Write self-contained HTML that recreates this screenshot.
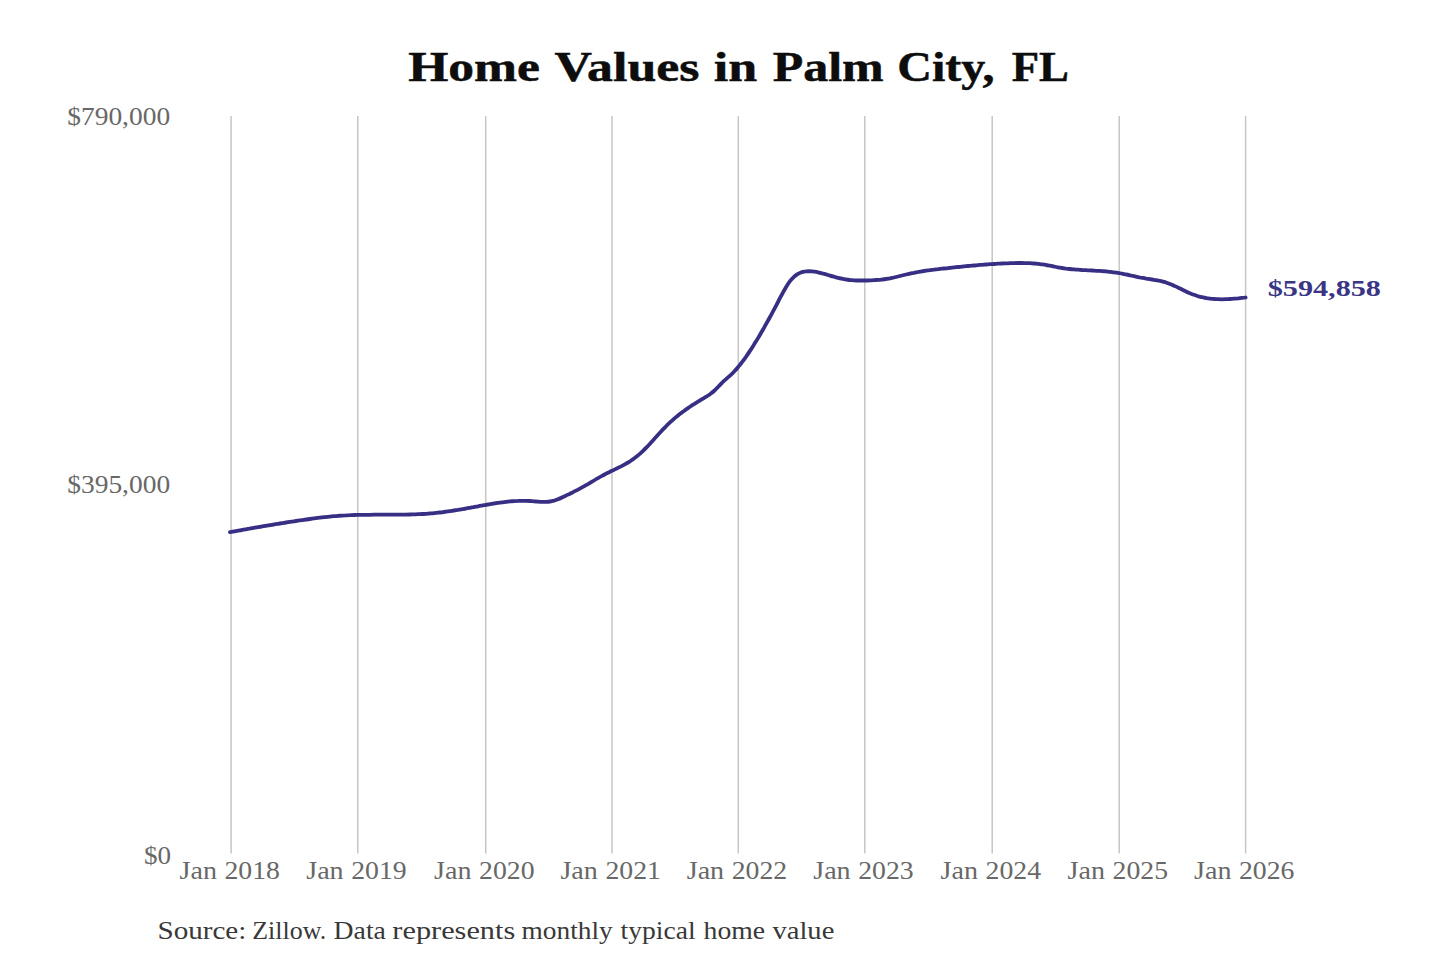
<!DOCTYPE html>
<html><head><meta charset="utf-8"><title>Home Values in Palm City, FL</title><style>
html,body{margin:0;padding:0;background:#fff;}
body{width:1440px;height:960px;overflow:hidden;position:relative;}
svg{position:absolute;left:0;top:0;display:block;}
text{font-family:"Liberation Serif",serif;}
</style></head><body>
<svg width="1440" height="960" viewBox="0 0 1440 960">
<rect width="1440" height="960" fill="#fff"/>
<g stroke="#c6c6c6" stroke-width="1.5">
<line x1="231.1" y1="116" x2="231.1" y2="853.5"/>
<line x1="357.8" y1="116" x2="357.8" y2="853.5"/>
<line x1="485.7" y1="116" x2="485.7" y2="853.5"/>
<line x1="612.0" y1="116" x2="612.0" y2="853.5"/>
<line x1="738.3" y1="116" x2="738.3" y2="853.5"/>
<line x1="864.8" y1="116" x2="864.8" y2="853.5"/>
<line x1="992.2" y1="116" x2="992.2" y2="853.5"/>
<line x1="1119.2" y1="116" x2="1119.2" y2="853.5"/>
<line x1="1245.6" y1="116" x2="1245.6" y2="853.5"/>
</g>
<text x="408.17" y="81.2" textLength="131.72" lengthAdjust="spacingAndGlyphs" font-size="42" font-weight="bold" fill="#0d0d0d" stroke="#0d0d0d" stroke-width="0.5">Home</text>
<text x="554.40" y="81.2" textLength="145.02" lengthAdjust="spacingAndGlyphs" font-size="42" font-weight="bold" fill="#0d0d0d" stroke="#0d0d0d" stroke-width="0.5">Values</text>
<text x="713.86" y="81.2" textLength="43.38" lengthAdjust="spacingAndGlyphs" font-size="42" font-weight="bold" fill="#0d0d0d" stroke="#0d0d0d" stroke-width="0.5">in</text>
<text x="772.71" y="81.2" textLength="110.96" lengthAdjust="spacingAndGlyphs" font-size="42" font-weight="bold" fill="#0d0d0d" stroke="#0d0d0d" stroke-width="0.5">Palm</text>
<text x="897.21" y="81.2" textLength="97.43" lengthAdjust="spacingAndGlyphs" font-size="42" font-weight="bold" fill="#0d0d0d" stroke="#0d0d0d" stroke-width="0.5">City,</text>
<text x="1011.73" y="81.2" textLength="57.25" lengthAdjust="spacingAndGlyphs" font-size="42" font-weight="bold" fill="#0d0d0d" stroke="#0d0d0d" stroke-width="0.5">FL</text>
<text x="157.46" y="938.8" textLength="88.85" lengthAdjust="spacingAndGlyphs" font-size="26" fill="#383838">Source:</text>
<text x="252.30" y="938.8" textLength="73.83" lengthAdjust="spacingAndGlyphs" font-size="26" fill="#383838">Zillow.</text>
<text x="333.64" y="938.8" textLength="52.26" lengthAdjust="spacingAndGlyphs" font-size="26" fill="#383838">Data</text>
<text x="392.33" y="938.8" textLength="122.91" lengthAdjust="spacingAndGlyphs" font-size="26" fill="#383838">represents</text>
<text x="521.55" y="938.8" textLength="91.16" lengthAdjust="spacingAndGlyphs" font-size="26" fill="#383838">monthly</text>
<text x="620.64" y="938.8" textLength="74.97" lengthAdjust="spacingAndGlyphs" font-size="26" fill="#383838">typical</text>
<text x="703.64" y="938.8" textLength="61.48" lengthAdjust="spacingAndGlyphs" font-size="26" fill="#383838">home</text>
<text x="772.40" y="938.8" textLength="61.94" lengthAdjust="spacingAndGlyphs" font-size="26" fill="#383838">value</text>
<text x="67.24" y="124.6" textLength="102.88" lengthAdjust="spacingAndGlyphs" font-size="26" fill="#686868">$790,000</text>
<text x="67.24" y="492.5" textLength="102.88" lengthAdjust="spacingAndGlyphs" font-size="26" fill="#686868">$395,000</text>
<text x="143.96" y="863.5" textLength="27.08" lengthAdjust="spacingAndGlyphs" font-size="26" fill="#686868">$0</text>
<text x="179.52" y="879.3" textLength="37.40" lengthAdjust="spacingAndGlyphs" font-size="26" fill="#686868">Jan</text>
<text x="224.53" y="879.3" textLength="55.43" lengthAdjust="spacingAndGlyphs" font-size="26" fill="#686868">2018</text>
<text x="306.22" y="879.3" textLength="37.40" lengthAdjust="spacingAndGlyphs" font-size="26" fill="#686868">Jan</text>
<text x="351.23" y="879.3" textLength="55.43" lengthAdjust="spacingAndGlyphs" font-size="26" fill="#686868">2019</text>
<text x="434.12" y="879.3" textLength="37.40" lengthAdjust="spacingAndGlyphs" font-size="26" fill="#686868">Jan</text>
<text x="479.13" y="879.3" textLength="55.43" lengthAdjust="spacingAndGlyphs" font-size="26" fill="#686868">2020</text>
<text x="560.42" y="879.3" textLength="37.40" lengthAdjust="spacingAndGlyphs" font-size="26" fill="#686868">Jan</text>
<text x="605.43" y="879.3" textLength="55.43" lengthAdjust="spacingAndGlyphs" font-size="26" fill="#686868">2021</text>
<text x="686.72" y="879.3" textLength="37.40" lengthAdjust="spacingAndGlyphs" font-size="26" fill="#686868">Jan</text>
<text x="731.73" y="879.3" textLength="55.43" lengthAdjust="spacingAndGlyphs" font-size="26" fill="#686868">2022</text>
<text x="813.22" y="879.3" textLength="37.40" lengthAdjust="spacingAndGlyphs" font-size="26" fill="#686868">Jan</text>
<text x="858.23" y="879.3" textLength="55.43" lengthAdjust="spacingAndGlyphs" font-size="26" fill="#686868">2023</text>
<text x="940.62" y="879.3" textLength="37.40" lengthAdjust="spacingAndGlyphs" font-size="26" fill="#686868">Jan</text>
<text x="985.63" y="879.3" textLength="55.43" lengthAdjust="spacingAndGlyphs" font-size="26" fill="#686868">2024</text>
<text x="1067.62" y="879.3" textLength="37.40" lengthAdjust="spacingAndGlyphs" font-size="26" fill="#686868">Jan</text>
<text x="1112.63" y="879.3" textLength="55.43" lengthAdjust="spacingAndGlyphs" font-size="26" fill="#686868">2025</text>
<text x="1194.02" y="879.3" textLength="37.40" lengthAdjust="spacingAndGlyphs" font-size="26" fill="#686868">Jan</text>
<text x="1239.03" y="879.3" textLength="55.43" lengthAdjust="spacingAndGlyphs" font-size="26" fill="#686868">2026</text>
<text x="1267.74" y="296.3" textLength="113.22" lengthAdjust="spacingAndGlyphs" font-size="24" font-weight="bold" fill="#3a3584">$594,858</text>
<path d="M230.0 532.2 C230.7 532.1 232.7 531.7 234.0 531.4 C235.3 531.2 236.7 530.9 238.0 530.7 C239.3 530.5 240.7 530.2 242.0 530.0 C243.3 529.7 244.7 529.5 246.0 529.3 C247.3 529.0 248.7 528.8 250.0 528.5 C251.3 528.3 252.7 528.1 254.0 527.8 C255.3 527.6 256.7 527.4 258.0 527.1 C259.3 526.9 260.7 526.7 262.0 526.5 C263.3 526.2 264.7 526.0 266.0 525.8 C267.3 525.6 268.7 525.3 270.0 525.1 C271.3 524.9 272.7 524.7 274.0 524.5 C275.3 524.2 276.7 524.0 278.0 523.8 C279.3 523.6 280.7 523.4 282.0 523.2 C283.3 523.0 284.7 522.7 286.0 522.5 C287.3 522.3 288.7 522.1 290.0 521.9 C291.3 521.7 292.7 521.5 294.0 521.3 C295.3 521.1 296.7 520.9 298.0 520.7 C299.3 520.5 300.7 520.3 302.0 520.1 C303.3 519.9 304.7 519.7 306.0 519.5 C307.3 519.3 308.7 519.2 310.0 519.0 C311.3 518.8 312.7 518.6 314.0 518.4 C315.3 518.3 316.7 518.1 318.0 517.9 C319.3 517.8 320.7 517.6 322.0 517.4 C323.3 517.3 324.7 517.1 326.0 517.0 C327.3 516.8 328.7 516.7 330.0 516.6 C331.3 516.4 332.7 516.3 334.0 516.2 C335.3 516.1 336.7 516.0 338.0 515.9 C339.3 515.8 340.7 515.7 342.0 515.6 C343.3 515.5 344.7 515.4 346.0 515.4 C347.3 515.3 348.7 515.2 350.0 515.2 C351.3 515.1 352.7 515.1 354.0 515.0 C355.3 515.0 356.7 515.0 358.0 514.9 C359.3 514.9 360.7 514.9 362.0 514.8 C363.3 514.8 364.7 514.8 366.0 514.8 C367.3 514.8 368.7 514.8 370.0 514.8 C371.3 514.8 372.7 514.8 374.0 514.7 C375.3 514.7 376.7 514.7 378.0 514.7 C379.3 514.7 380.7 514.7 382.0 514.7 C383.3 514.7 384.7 514.7 386.0 514.7 C387.3 514.7 388.7 514.7 390.0 514.7 C391.3 514.7 392.7 514.7 394.0 514.7 C395.3 514.7 396.7 514.7 398.0 514.7 C399.3 514.7 400.7 514.7 402.0 514.7 C403.3 514.7 404.7 514.6 406.0 514.6 C407.3 514.6 408.7 514.6 410.0 514.5 C411.3 514.5 412.7 514.4 414.0 514.4 C415.3 514.4 416.7 514.3 418.0 514.2 C419.3 514.2 420.7 514.1 422.0 514.0 C423.3 514.0 424.7 513.9 426.0 513.8 C427.3 513.7 428.7 513.6 430.0 513.5 C431.3 513.4 432.7 513.3 434.0 513.1 C435.3 513.0 436.7 512.9 438.0 512.7 C439.3 512.6 440.7 512.4 442.0 512.3 C443.3 512.1 444.7 511.9 446.0 511.7 C447.3 511.5 448.7 511.3 450.0 511.1 C451.3 510.9 452.7 510.7 454.0 510.5 C455.3 510.3 456.7 510.1 458.0 509.9 C459.3 509.6 460.7 509.4 462.0 509.2 C463.3 509.0 464.7 508.7 466.0 508.5 C467.3 508.2 468.7 508.0 470.0 507.8 C471.3 507.5 472.7 507.3 474.0 507.0 C475.3 506.8 476.7 506.5 478.0 506.3 C479.3 506.0 480.7 505.8 482.0 505.6 C483.3 505.3 484.7 505.1 486.0 504.8 C487.3 504.6 488.7 504.4 490.0 504.2 C491.3 503.9 492.7 503.7 494.0 503.5 C495.3 503.3 496.7 503.1 498.0 502.9 C499.3 502.7 500.7 502.5 502.0 502.3 C503.3 502.1 504.7 502.0 506.0 501.8 C507.3 501.7 508.7 501.5 510.0 501.4 C511.3 501.3 512.7 501.2 514.0 501.1 C515.3 501.0 516.7 500.9 518.0 500.9 C519.3 500.8 520.7 500.8 522.0 500.8 C523.3 500.8 524.7 500.8 526.0 500.8 C527.3 500.8 528.7 500.9 530.0 501.0 C531.3 501.1 532.7 501.2 534.0 501.3 C535.3 501.4 536.7 501.6 538.0 501.7 C539.3 501.8 540.7 501.9 542.0 501.9 C543.3 501.9 544.7 502.0 546.0 501.9 C547.3 501.8 548.7 501.7 550.0 501.5 C551.3 501.3 552.7 501.0 554.0 500.7 C555.3 500.3 556.7 499.8 558.0 499.3 C559.3 498.8 560.7 498.2 562.0 497.5 C563.3 496.9 564.7 496.3 566.0 495.6 C567.3 495.0 568.7 494.3 570.0 493.7 C571.3 493.0 572.7 492.4 574.0 491.7 C575.3 491.0 576.7 490.3 578.0 489.6 C579.3 488.9 580.7 488.2 582.0 487.4 C583.3 486.7 584.7 486.0 586.0 485.2 C587.3 484.5 588.7 483.7 590.0 482.9 C591.3 482.1 592.7 481.3 594.0 480.5 C595.3 479.7 596.7 478.9 598.0 478.2 C599.3 477.4 600.7 476.6 602.0 475.9 C603.3 475.1 604.7 474.4 606.0 473.7 C607.3 473.1 608.7 472.4 610.0 471.8 C611.3 471.1 612.7 470.5 614.0 469.8 C615.3 469.2 616.7 468.6 618.0 467.9 C619.3 467.2 620.7 466.6 622.0 465.9 C623.3 465.2 624.7 464.5 626.0 463.7 C627.3 462.9 628.7 462.1 630.0 461.3 C631.3 460.4 632.7 459.5 634.0 458.5 C635.3 457.6 636.7 456.6 638.0 455.4 C639.3 454.3 640.7 453.2 642.0 451.9 C643.3 450.6 644.7 449.3 646.0 447.9 C647.3 446.6 648.7 445.1 650.0 443.7 C651.3 442.2 652.7 440.7 654.0 439.2 C655.3 437.8 656.7 436.2 658.0 434.8 C659.3 433.3 660.7 431.8 662.0 430.4 C663.3 429.0 664.7 427.6 666.0 426.3 C667.3 424.9 668.7 423.6 670.0 422.4 C671.3 421.2 672.7 420.0 674.0 418.8 C675.3 417.7 676.7 416.6 678.0 415.5 C679.3 414.4 680.7 413.4 682.0 412.4 C683.3 411.4 684.7 410.5 686.0 409.5 C687.3 408.6 688.7 407.7 690.0 406.8 C691.3 405.9 692.7 405.0 694.0 404.2 C695.3 403.3 696.7 402.5 698.0 401.7 C699.3 400.8 700.7 400.0 702.0 399.2 C703.3 398.4 704.7 397.7 706.0 396.8 C707.3 396.0 708.7 395.1 710.0 394.2 C711.3 393.2 712.7 392.2 714.0 391.0 C715.3 389.8 716.7 388.4 718.0 387.0 C719.3 385.6 720.7 384.1 722.0 382.8 C723.3 381.4 724.7 380.2 726.0 379.1 C727.3 377.9 728.7 376.9 730.0 375.7 C731.3 374.5 732.7 373.1 734.0 371.7 C735.3 370.3 736.7 368.8 738.0 367.2 C739.3 365.6 740.7 364.0 742.0 362.2 C743.3 360.5 744.7 358.6 746.0 356.8 C747.3 354.9 748.7 352.9 750.0 350.9 C751.3 348.9 752.7 346.8 754.0 344.6 C755.3 342.5 756.7 340.3 758.0 338.1 C759.3 335.9 760.7 333.6 762.0 331.3 C763.3 329.0 764.7 326.6 766.0 324.2 C767.3 321.9 768.7 319.4 770.0 317.0 C771.3 314.5 772.7 312.1 774.0 309.6 C775.3 307.1 776.7 304.5 778.0 302.0 C779.3 299.4 780.7 296.8 782.0 294.3 C783.3 291.9 784.7 289.4 786.0 287.2 C787.3 284.9 788.7 282.8 790.0 281.1 C791.3 279.4 792.7 278.0 794.0 276.8 C795.3 275.6 796.7 274.7 798.0 273.9 C799.3 273.1 800.7 272.6 802.0 272.1 C803.3 271.7 804.7 271.4 806.0 271.3 C807.3 271.1 808.7 271.1 810.0 271.1 C811.3 271.2 812.7 271.4 814.0 271.6 C815.3 271.8 816.7 272.0 818.0 272.3 C819.3 272.6 820.7 273.0 822.0 273.3 C823.3 273.7 824.7 274.0 826.0 274.4 C827.3 274.8 828.7 275.2 830.0 275.6 C831.3 276.0 832.7 276.4 834.0 276.7 C835.3 277.1 836.7 277.5 838.0 277.8 C839.3 278.1 840.7 278.5 842.0 278.7 C843.3 279.0 844.7 279.2 846.0 279.5 C847.3 279.7 848.7 279.8 850.0 280.0 C851.3 280.1 852.7 280.2 854.0 280.3 C855.3 280.4 856.7 280.5 858.0 280.5 C859.3 280.5 860.7 280.5 862.0 280.5 C863.3 280.5 864.7 280.5 866.0 280.5 C867.3 280.5 868.7 280.4 870.0 280.3 C871.3 280.3 872.7 280.2 874.0 280.1 C875.3 280.0 876.7 280.0 878.0 279.9 C879.3 279.7 880.7 279.6 882.0 279.5 C883.3 279.3 884.7 279.2 886.0 279.0 C887.3 278.8 888.7 278.5 890.0 278.3 C891.3 278.0 892.7 277.8 894.0 277.5 C895.3 277.2 896.7 276.8 898.0 276.5 C899.3 276.2 900.7 275.8 902.0 275.5 C903.3 275.2 904.7 274.8 906.0 274.5 C907.3 274.2 908.7 273.9 910.0 273.6 C911.3 273.3 912.7 273.0 914.0 272.8 C915.3 272.5 916.7 272.3 918.0 272.0 C919.3 271.8 920.7 271.6 922.0 271.3 C923.3 271.1 924.7 270.9 926.0 270.7 C927.3 270.5 928.7 270.3 930.0 270.2 C931.3 270.0 932.7 269.8 934.0 269.7 C935.3 269.5 936.7 269.3 938.0 269.2 C939.3 269.0 940.7 268.9 942.0 268.7 C943.3 268.6 944.7 268.4 946.0 268.3 C947.3 268.1 948.7 268.0 950.0 267.8 C951.3 267.7 952.7 267.5 954.0 267.4 C955.3 267.3 956.7 267.1 958.0 267.0 C959.3 266.9 960.7 266.7 962.0 266.6 C963.3 266.5 964.7 266.3 966.0 266.2 C967.3 266.1 968.7 265.9 970.0 265.8 C971.3 265.7 972.7 265.6 974.0 265.5 C975.3 265.4 976.7 265.2 978.0 265.1 C979.3 265.0 980.7 264.9 982.0 264.8 C983.3 264.7 984.7 264.6 986.0 264.5 C987.3 264.4 988.7 264.3 990.0 264.2 C991.3 264.1 992.7 264.1 994.0 264.0 C995.3 263.9 996.7 263.8 998.0 263.7 C999.3 263.7 1000.7 263.6 1002.0 263.5 C1003.3 263.5 1004.7 263.4 1006.0 263.4 C1007.3 263.3 1008.7 263.3 1010.0 263.2 C1011.3 263.2 1012.7 263.1 1014.0 263.1 C1015.3 263.1 1016.7 263.1 1018.0 263.0 C1019.3 263.0 1020.7 263.0 1022.0 263.0 C1023.3 263.0 1024.7 263.1 1026.0 263.1 C1027.3 263.1 1028.7 263.2 1030.0 263.2 C1031.3 263.3 1032.7 263.4 1034.0 263.5 C1035.3 263.6 1036.7 263.7 1038.0 263.8 C1039.3 264.0 1040.7 264.1 1042.0 264.3 C1043.3 264.5 1044.7 264.7 1046.0 265.0 C1047.3 265.2 1048.7 265.5 1050.0 265.7 C1051.3 266.0 1052.7 266.3 1054.0 266.5 C1055.3 266.8 1056.7 267.1 1058.0 267.3 C1059.3 267.5 1060.7 267.8 1062.0 268.0 C1063.3 268.2 1064.7 268.4 1066.0 268.6 C1067.3 268.7 1068.7 268.9 1070.0 269.0 C1071.3 269.2 1072.7 269.3 1074.0 269.4 C1075.3 269.5 1076.7 269.6 1078.0 269.7 C1079.3 269.8 1080.7 269.9 1082.0 270.0 C1083.3 270.0 1084.7 270.1 1086.0 270.2 C1087.3 270.3 1088.7 270.3 1090.0 270.4 C1091.3 270.5 1092.7 270.5 1094.0 270.6 C1095.3 270.7 1096.7 270.8 1098.0 270.8 C1099.3 270.9 1100.7 271.0 1102.0 271.1 C1103.3 271.2 1104.7 271.3 1106.0 271.4 C1107.3 271.6 1108.7 271.7 1110.0 271.8 C1111.3 272.0 1112.7 272.1 1114.0 272.3 C1115.3 272.5 1116.7 272.7 1118.0 272.9 C1119.3 273.1 1120.7 273.4 1122.0 273.6 C1123.3 273.9 1124.7 274.2 1126.0 274.5 C1127.3 274.7 1128.7 275.0 1130.0 275.3 C1131.3 275.6 1132.7 275.9 1134.0 276.2 C1135.3 276.5 1136.7 276.8 1138.0 277.1 C1139.3 277.4 1140.7 277.6 1142.0 277.9 C1143.3 278.1 1144.7 278.3 1146.0 278.6 C1147.3 278.8 1148.7 279.0 1150.0 279.2 C1151.3 279.4 1152.7 279.6 1154.0 279.8 C1155.3 280.0 1156.7 280.3 1158.0 280.5 C1159.3 280.8 1160.7 281.1 1162.0 281.4 C1163.3 281.8 1164.7 282.1 1166.0 282.5 C1167.3 283.0 1168.7 283.5 1170.0 284.0 C1171.3 284.5 1172.7 285.1 1174.0 285.7 C1175.3 286.3 1176.7 286.9 1178.0 287.6 C1179.3 288.2 1180.7 288.9 1182.0 289.5 C1183.3 290.2 1184.7 290.8 1186.0 291.5 C1187.3 292.1 1188.7 292.7 1190.0 293.3 C1191.3 293.8 1192.7 294.4 1194.0 294.8 C1195.3 295.3 1196.7 295.8 1198.0 296.2 C1199.3 296.6 1200.7 296.9 1202.0 297.2 C1203.3 297.5 1204.7 297.8 1206.0 298.0 C1207.3 298.3 1208.7 298.5 1210.0 298.6 C1211.3 298.8 1212.7 298.9 1214.0 299.0 C1215.3 299.1 1216.7 299.2 1218.0 299.2 C1219.3 299.3 1220.7 299.3 1222.0 299.3 C1223.3 299.3 1224.7 299.3 1226.0 299.2 C1227.3 299.2 1228.7 299.1 1230.0 299.0 C1231.3 298.9 1232.7 298.8 1234.0 298.7 C1235.3 298.6 1236.7 298.5 1238.0 298.4 C1239.3 298.2 1240.7 298.1 1242.0 297.9 C1243.3 297.8 1245.0 297.6 1245.6 297.5" fill="none" stroke="#372f84" stroke-width="3.8" stroke-linecap="round" stroke-linejoin="round"/>
</svg>
</body></html>
